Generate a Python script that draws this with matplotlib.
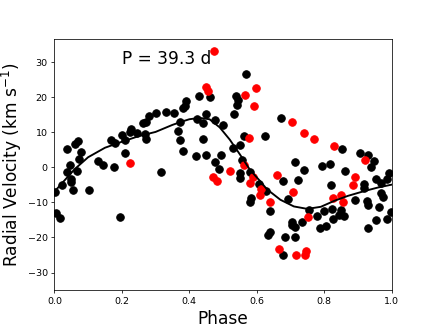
import matplotlib
matplotlib.use('Agg')
from matplotlib import pyplot as plt

# black points (phase, radial velocity)
black_phase = [0.002, 0.006, 0.016, 0.024, 0.036, 0.037, 0.047, 0.048, 0.048, 0.056,
               0.061, 0.067, 0.071, 0.074, 0.080, 0.103, 0.128, 0.144, 0.177, 0.168,
               0.179, 0.194, 0.201, 0.210, 0.209, 0.224, 0.226, 0.246, 0.263, 0.268,
               0.273, 0.273, 0.280, 0.302, 0.315, 0.331, 0.355, 0.366, 0.373, 0.373,
               0.380, 0.386, 0.391, 0.381, 0.420, 0.423, 0.429, 0.440, 0.440, 0.450,
               0.450, 0.460, 0.475, 0.477, 0.489, 0.493, 0.501, 0.529, 0.533, 0.537,
               0.545, 0.540, 0.551, 0.551, 0.551, 0.556, 0.561, 0.567, 0.580, 0.579,
               0.583, 0.608, 0.623, 0.628, 0.640, 0.640, 0.633, 0.673, 0.677, 0.678,
               0.684, 0.693, 0.703, 0.705, 0.712, 0.712, 0.712, 0.721, 0.734, 0.739,
               0.754, 0.778, 0.786, 0.794, 0.800, 0.804, 0.818, 0.819, 0.823, 0.825,
               0.845, 0.849, 0.853, 0.860, 0.862, 0.890, 0.905, 0.917, 0.917, 0.926,
               0.931, 0.931, 0.930, 0.939, 0.949, 0.953, 0.953, 0.962, 0.968, 0.968,
               0.973, 0.985, 0.986, 0.993, 0.998]
black_rv = [-7.0, -13.0, -14.4, -5.1, 5.2, -1.4, 0.5, -3.4, -4.2, -6.4,
            6.5, -1.1, 7.4, 2.4, 4.3, -6.5, 1.8, 0.5, 0.1, 7.7,
            6.9, -14.1, 9.0, 7.6, 4.1, 9.9, 10.7, 9.8, 12.6, 9.5,
            7.9, 12.9, 14.5, 15.5, -1.3, 15.7, 15.5, 10.4, 12.9, 7.8,
            16.8, 17.5, 18.7, 4.6, 3.2, 13.8, 20.3, 12.6, 8.1, 15.2,
            3.4, 19.9, 13.3, 1.4, -0.5, 3.3, 12.0, 5.4, 15.0, 20.1,
            19.0, 17.6, 6.2, -1.8, -3.2, 2.1, 8.9, 26.5, -1.3, -9.9,
            -8.7, -4.9, 8.8, -6.8, -12.6, -18.6, -19.3, 13.9, -4.1, -24.9,
            -20.0, -9.0, -16.4, -15.7, -17.0, -20.0, 1.3, -3.7, -15.7, -0.9,
            -12.2, -13.8, -17.3, 0.2, -12.6, -16.7, 0.8, -5.2, -12.0, -14.8,
            -13.7, -12.2, 5.2, -13.8, -1.1, -9.3, 4.1, -4.9, -6.0, -9.6,
            -10.7, 3.4, -17.2, 0.1, 1.6, -3.4, -15.0, -11.5, -4.4, -7.5,
            -8.6, -14.9, -3.4, -1.6, -12.7]

# red points
red_phase = [0.223, 0.450, 0.454, 0.470, 0.473, 0.482, 0.520, 0.561, 0.564, 0.577,
             0.581, 0.588, 0.593, 0.598, 0.612, 0.611, 0.639, 0.659, 0.667, 0.705,
             0.708, 0.717, 0.741, 0.742, 0.746, 0.753, 0.769, 0.825, 0.830, 0.851,
             0.855, 0.884, 0.892, 0.921]
red_rv = [1.2, 22.8, 21.6, -2.8, 33.1, -4.1, -1.0, 0.6, 20.6, 8.4,
          -4.5, -2.8, 17.5, 22.5, -6.3, -8.0, -9.9, -2.2, -23.2, 12.7,
          -7.2, -25.0, 9.6, -24.9, -23.8, -14.1, 8.0, -8.8, 6.1, -8.0,
          -9.9, -5.1, -2.8, 1.9]

# fitted curve
curve_phase = [0.0, 0.03, 0.06, 0.1, 0.15, 0.2, 0.25, 0.3, 0.35, 0.38, 0.4, 0.43,
               0.46, 0.49, 0.52, 0.55, 0.58, 0.61, 0.63, 0.67, 0.71, 0.75, 0.79,
               0.83, 0.87, 0.92, 0.96, 1.0]
curve_rv = [-7.0, -3.8, -0.6, 2.8, 5.5, 7.2, 8.8, 10.0, 12.0, 13.0, 13.6, 14.0,
            13.6, 11.3, 7.8, 3.6, -0.8, -4.0, -6.3, -9.3, -11.2, -11.9, -11.3,
            -9.6, -8.2, -6.8, -5.8, -5.0]

fig, ax = plt.subplots(figsize=(6.4, 4.8), dpi=68)

ax.plot(black_phase, black_rv, 'o', color='black', ms=8, zorder=2)
ax.plot(red_phase, red_rv, 'o', color='red', ms=8, zorder=3)
ax.plot(curve_phase, curve_rv, color='black', lw=2, zorder=4)

ax.text(0.2, 0.9, 'P = 39.3 d', fontsize=18, transform=ax.transAxes)

ax.set_xlim(0, 1)
ax.set_ylim(-35, 36.5)
ax.set_xticks([0.0, 0.2, 0.4, 0.6, 0.8, 1.0])
ax.set_yticks([-30, -20, -10, 0, 10, 20, 30])
ax.set_xlabel('Phase', fontsize=18)
ax.set_ylabel('Radial Velocity (km s$^{-1}$)', fontsize=18)

plt.savefig('out.png')
